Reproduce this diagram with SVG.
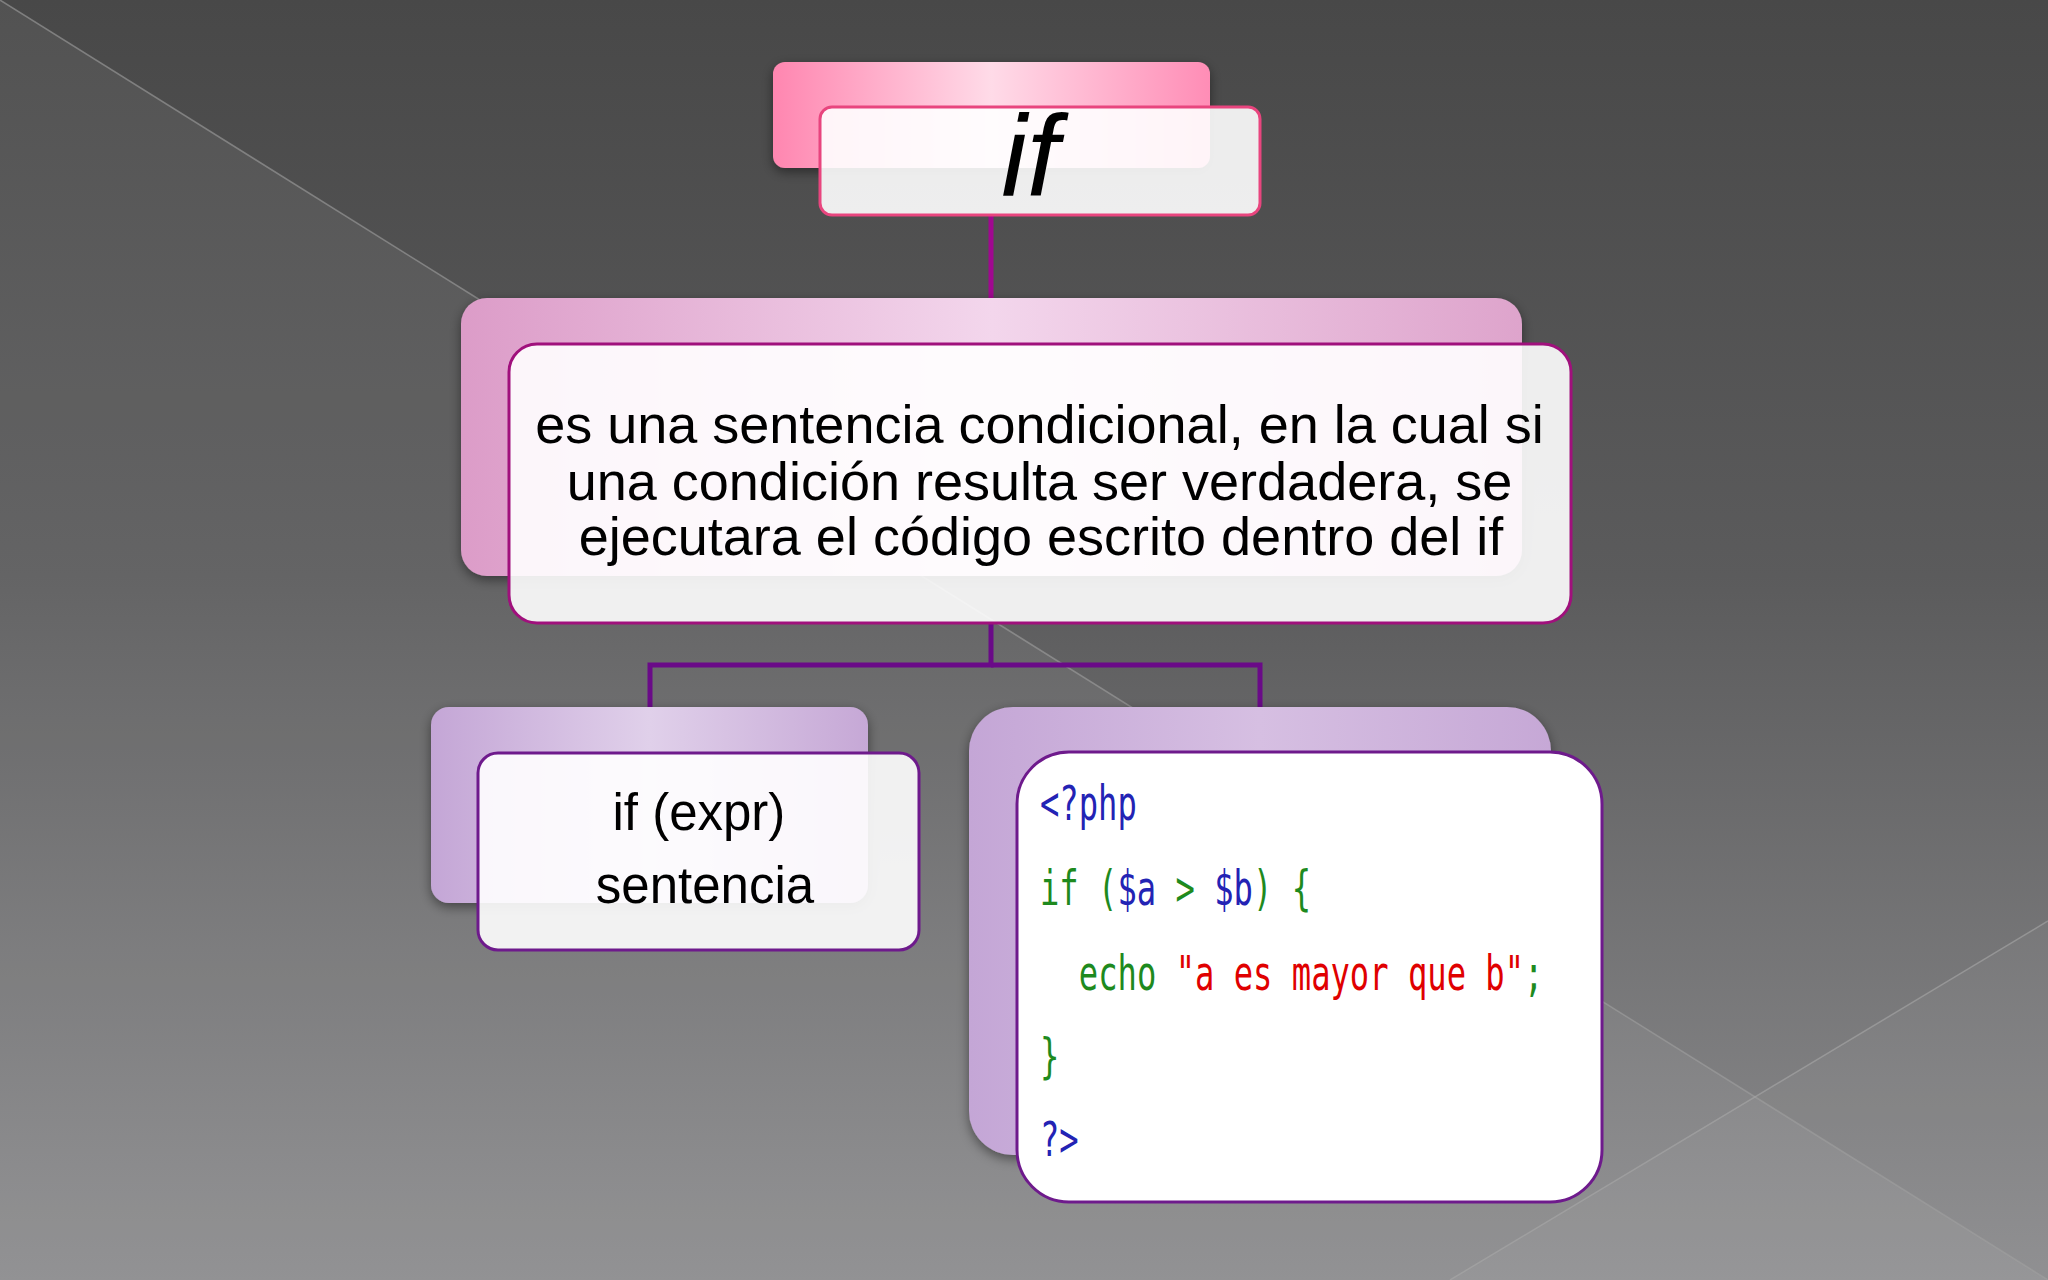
<svg xmlns="http://www.w3.org/2000/svg" width="2048" height="1280" viewBox="0 0 2048 1280">
  <defs>
    <linearGradient id="bg" x1="0" y1="0" x2="0" y2="1">
      <stop offset="0" stop-color="#484848"/>
      <stop offset="0.45" stop-color="#5b5b5c"/>
      <stop offset="1" stop-color="#8c8c8e"/>
    </linearGradient>
    <linearGradient id="gPink" x1="0" y1="0" x2="1" y2="0">
      <stop offset="0" stop-color="#ff86b0"/>
      <stop offset="0.5" stop-color="#ffdbe8"/>
      <stop offset="1" stop-color="#ff8db6"/>
    </linearGradient>
    <linearGradient id="gMag" x1="0" y1="0" x2="1" y2="0">
      <stop offset="0" stop-color="#dc9cc8"/>
      <stop offset="0.5" stop-color="#f3d6ec"/>
      <stop offset="1" stop-color="#dea4cc"/>
    </linearGradient>
    <linearGradient id="gLav" x1="0" y1="0" x2="1" y2="0">
      <stop offset="0" stop-color="#c4a6d6"/>
      <stop offset="0.5" stop-color="#e0d0ea"/>
      <stop offset="1" stop-color="#c6a8d6"/>
    </linearGradient>
    <linearGradient id="gLav2" x1="0" y1="0" x2="1" y2="0">
      <stop offset="0" stop-color="#c4a6d6"/>
      <stop offset="0.5" stop-color="#d6bfe2"/>
      <stop offset="1" stop-color="#c6a8d6"/>
    </linearGradient>
    <filter id="sh" x="-10%" y="-10%" width="120%" height="130%">
      <feDropShadow dx="0" dy="4" stdDeviation="6" flood-color="#000" flood-opacity="0.45"/>
    </filter>
    <style>
      .front { fill: #ffffff; fill-opacity: 0.9; stroke-width: 3; }
      .txt { font-family: "Liberation Sans", Arial, sans-serif; fill: #000; text-anchor: middle; }
      .code { font-family: "DejaVu Sans Mono", "Liberation Mono", monospace; font-size: 48px; }
      .bl { fill: #2323b4; }
      .gr { fill: #1e8a1e; }
      .rd { fill: #e00000; }
      .conn { fill: none; stroke-width: 5; }
    </style>
  </defs>

  <!-- background -->
  <rect x="0" y="0" width="2048" height="1280" fill="url(#bg)"/>
  <polygon points="0,0 2048,1280 0,1280" fill="#ffffff" fill-opacity="0.06"/>
  <polygon points="2048,921 2048,1280 1450,1280" fill="#ffffff" fill-opacity="0.04"/>
  <line x1="0" y1="0" x2="2048" y2="1280" stroke="#a0a0a0" stroke-opacity="0.6" stroke-width="1.5"/>
  <line x1="2048" y1="921" x2="1450" y2="1280" stroke="#a8a8a8" stroke-opacity="0.6" stroke-width="1.5"/>

  <!-- connectors -->
  <g id="connectors">
    <line class="conn" x1="991" y1="215" x2="991" y2="299" stroke="#a00890"/>
    <polyline class="conn" points="991,623 991,665 650,665 650,707" stroke="#6a0a88"/>
    <polyline class="conn" points="991,665 1260,665 1260,707" stroke="#6a0a88"/>
  </g>

  <!-- top node -->
  <g id="node-if">
    <rect x="773" y="62" width="437" height="106" rx="12" fill="url(#gPink)" filter="url(#sh)"/>
    <rect class="front" x="820" y="107" width="440" height="108" rx="12" stroke="#e8457e"/>
    <text x="1030" y="196" font-family="Liberation Sans, Arial, sans-serif" font-style="italic" font-size="115" text-anchor="middle" fill="#000">if</text>
  </g>

  <!-- middle node -->
  <g id="node-desc">
    <rect x="461" y="298" width="1061" height="278" rx="26" fill="url(#gMag)" filter="url(#sh)"/>
    <rect class="front" x="509" y="344" width="1062" height="279" rx="28" stroke="#a0107c"/>
    <text class="txt" font-size="54">
      <tspan x="1047" y="443">es una sentencia condicional, en la cual si</tspan>
      <tspan x="1047" y="500">una condición resulta ser verdadera, se</tspan>
      <tspan x="1041" y="555">ejecutara el código escrito dentro del if</tspan>
    </text>
  </g>

  <!-- left node -->
  <g id="node-syntax">
    <rect x="431" y="707" width="437" height="196" rx="18" fill="url(#gLav)" filter="url(#sh)"/>
    <rect class="front" x="478" y="753" width="441" height="197" rx="20" stroke="#6e1a8c"/>
    <text class="txt" font-size="51">
      <tspan x="706" y="830">if (expr)</tspan>
      <tspan x="705" y="903">sentencia</tspan>
    </text>
  </g>

  <!-- right node -->
  <g id="node-code">
    <rect x="969" y="707" width="582" height="448" rx="44" fill="url(#gLav2)" filter="url(#sh)"/>
    <rect x="1017" y="752" width="585" height="450" rx="52" fill="#ffffff" stroke="#6e1a8c" stroke-width="3"/>
    <g transform="translate(1040,0) scale(0.67,1)">
      <text class="code" x="0" y="820"><tspan class="bl">&lt;?php</tspan></text>
      <text class="code" x="0" y="905"><tspan class="gr">if (</tspan><tspan class="bl">$a</tspan><tspan class="gr"> &gt; </tspan><tspan class="bl">$b</tspan><tspan class="gr">) {</tspan></text>
      <text class="code" x="58" y="990"><tspan class="gr">echo </tspan><tspan class="rd">"a es mayor que b"</tspan><tspan class="gr">;</tspan></text>
      <text class="code" x="0" y="1073"><tspan class="gr">}</tspan></text>
      <text class="code" x="0" y="1156"><tspan class="bl">?&gt;</tspan></text>
    </g>
  </g>
</svg>
